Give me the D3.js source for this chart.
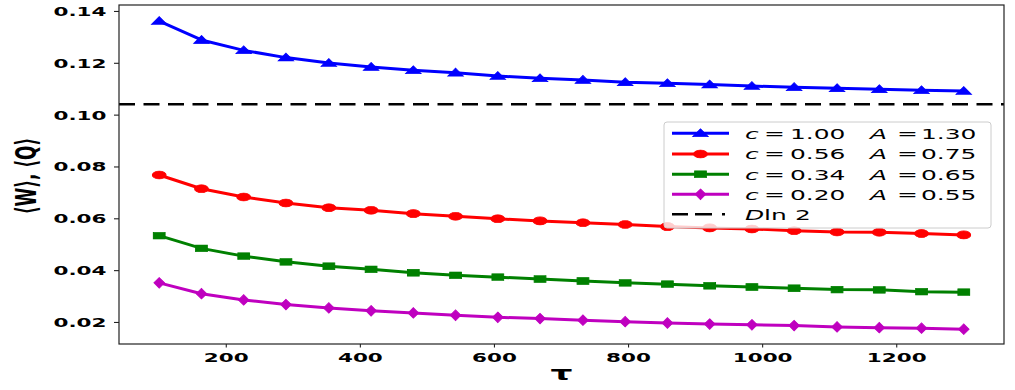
<!DOCTYPE html>
<html>
<head>
<meta charset="utf-8">
<script src="https://cdn.jsdelivr.net/npm/d3@7"></script>
<style>
body { margin: 0; background: #fff; }
text { font-family: "DejaVu Sans", sans-serif; }
</style>
</head>
<body>
<div class="chart"></div>
<script>
// data
var tau = [100, 163, 226, 289, 353, 416, 479, 542, 605, 668, 732, 795, 858, 921, 984, 1047, 1111, 1174, 1237, 1300];
var blueVals = [0.1361, 0.1288, 0.1248, 0.1220, 0.1199, 0.1184, 0.1171, 0.1162, 0.1149, 0.1140, 0.1134, 0.1125, 0.1121, 0.1116, 0.1110, 0.1106, 0.1102, 0.1098, 0.1094, 0.1091];
var redVals = [0.0767, 0.0714, 0.0682, 0.0659, 0.0641, 0.0631, 0.0618, 0.0608, 0.0598, 0.0590, 0.0583, 0.0576, 0.0568, 0.0563, 0.0559, 0.0552, 0.0547, 0.0546, 0.0541, 0.0536];
var greenVals = [0.0533, 0.0484, 0.0454, 0.0432, 0.0415, 0.0403, 0.0390, 0.0380, 0.0373, 0.0366, 0.0358, 0.0351, 0.0346, 0.0340, 0.0335, 0.0330, 0.0325, 0.0324, 0.0317, 0.0315];
var magentaVals = [0.0351, 0.0309, 0.0285, 0.0267, 0.0254, 0.0243, 0.0235, 0.0226, 0.0218, 0.0213, 0.0207, 0.0201, 0.0196, 0.0192, 0.0189, 0.0186, 0.0181, 0.0178, 0.0176, 0.0172];
var dLn2 = 0.1040;
var cLabels = ["1.00", "0.56", "0.34", "0.20"];
var aLabels = ["1.30", "0.75", "0.65", "0.55"];
var xTicks = [200, 400, 600, 800, 1000, 1200];
var yTicks = [0.02, 0.04, 0.06, 0.08, 0.10, 0.12, 0.14];

var svgWidth = 1015, svgHeight = 390;
var plot = {left: 119, right: 1004, top: 5, bottom: 344};
var k = 1.72; // the reference is stretched sideways

var series = [
    {vals: blueVals, color: "#0000ff", marker: "tri"},
    {vals: redVals, color: "#ff0000", marker: "circle"},
    {vals: greenVals, color: "#008000", marker: "square"},
    {vals: magentaVals, color: "#bf00bf", marker: "diamond"}
];

var svg = d3.select(".chart").append("svg")
    .attr("width", svgWidth)
    .attr("height", svgHeight);

var x = d3.scaleLinear().domain([40, 1360]).range([plot.left, plot.right]);
var y = d3.scaleLinear().domain([0.0115, 0.1423]).range([plot.bottom, plot.top]);

function markerPath(type) {
    if (type == "tri") return d3.symbol().type(d3.symbolTriangle).size(36)();
    if (type == "circle") return d3.symbol().type(d3.symbolCircle).size(50)();
    if (type == "square") return d3.symbol().type(d3.symbolSquare).size(46)();
    return "M0,-5.3L3.1,0L0,5.3L-3.1,0Z";
}

function drawMarker(g, type, cx, cy, color) {
    var t = type == "tri" ? "translate(" + cx + "," + (cy + 0.8) + ")" : "translate(" + cx + "," + cy + ")";
    g.append("path")
        .attr("d", markerPath(type))
        .attr("transform", t + " scale(" + k + ",1)")
        .attr("fill", color)
        .attr("stroke", color)
        .attr("stroke-width", 0.6);
}

// stretched text helper
function sText(g, px, py, str, size, weight, anchor) {
    return g.append("text")
        .attr("transform", "translate(" + px + "," + py + ") scale(" + k + ",1)")
        .attr("font-size", size)
        .attr("font-weight", weight || "normal")
        .attr("text-anchor", anchor || "start")
        .attr("fill", "#000")
        .text(str);
}

// dashed D ln 2
svg.append("line")
    .attr("x1", plot.left).attr("x2", plot.right)
    .attr("y1", y(dLn2)).attr("y2", y(dLn2))
    .attr("stroke", "#000")
    .attr("stroke-width", 2.6)
    .attr("stroke-dasharray", "16 8.5");

// lines + markers
var line = d3.line()
    .x(function(d, i) { return x(tau[i]); })
    .y(function(d) { return y(d); });

series.forEach(function(s) {
    svg.append("path")
        .datum(s.vals)
        .attr("d", line)
        .attr("fill", "none")
        .attr("stroke", s.color)
        .attr("stroke-width", 3)
        .attr("stroke-linejoin", "round");
    var mg = svg.append("g");
    s.vals.forEach(function(v, i) {
        drawMarker(mg, s.marker, x(tau[i]), y(v), s.color);
    });
});

// frame
svg.append("rect")
    .attr("x", plot.left).attr("y", plot.top)
    .attr("width", plot.right - plot.left)
    .attr("height", plot.bottom - plot.top)
    .attr("fill", "none")
    .attr("stroke", "#222")
    .attr("stroke-width", 1.2);

// axes
var yAxisG = svg.append("g")
    .attr("transform", "translate(" + plot.left + ",0)")
    .call(d3.axisLeft(y).tickValues(yTicks).tickSize(5).tickSizeOuter(0).tickFormat(d3.format(".2f")));
yAxisG.select(".domain").remove();
yAxisG.selectAll("line").attr("stroke", "#222").attr("stroke-width", 1.1);
yAxisG.selectAll("text")
    .attr("x", -12.5 / k)
    .attr("dy", "0.36em")
    .attr("transform", "scale(" + k + ",1)")
    .attr("font-size", 12.5)
    .attr("font-weight", "bold")
    .attr("font-family", "DejaVu Sans")
    .attr("fill", "#000");

var xAxisG = svg.append("g")
    .attr("transform", "translate(0," + plot.bottom + ")")
    .call(d3.axisBottom(x).tickValues(xTicks).tickSize(3.5).tickSizeOuter(0).tickFormat(d3.format("d")));
xAxisG.select(".domain").remove();
xAxisG.selectAll("line").attr("stroke", "#222").attr("stroke-width", 1.1);
xAxisG.selectAll("text")
    .attr("y", 18)
    .attr("dy", 0)
    .attr("transform", "scale(" + k + ",1)")
    .attr("font-size", 12.5)
    .attr("font-weight", "bold")
    .attr("font-family", "DejaVu Sans")
    .attr("fill", "#000");
// scale() also moves the tick x, so undo it on the group
xAxisG.selectAll(".tick").each(function(d) {
    d3.select(this).select("text").attr("x", 0);
    d3.select(this).attr("transform", "translate(" + x(d) + ",0)");
});

// axis titles
sText(svg, (plot.left + plot.right) / 2, 380, "\u03c4", 20, "bold", "middle");
svg.append("text")
    .attr("transform", "translate(36,176) scale(" + k + ",1) rotate(-90)")
    .attr("font-size", 17)
    .attr("font-weight", "bold")
    .attr("text-anchor", "middle")
    .text("\u27e8W\u27e9, \u27e8Q\u27e9");

// legend
var leg = svg.append("g");
leg.append("rect")
    .attr("x", 664).attr("y", 122)
    .attr("width", 327).attr("height", 106)
    .attr("rx", 3)
    .attr("fill", "#fff").attr("fill-opacity", 0.8)
    .attr("stroke", "#ccc").attr("stroke-width", 1);

var rowY = [133.3, 154, 174.3, 194.3, 214.3];
series.forEach(function(s, i) {
    var cy = rowY[i];
    leg.append("line")
        .attr("x1", 672).attr("x2", 729)
        .attr("y1", cy).attr("y2", cy)
        .attr("stroke", s.color).attr("stroke-width", 3);
    drawMarker(leg, s.marker, 700.5, cy, s.color);
    var base = cy + 5.4;
    sText(leg, 745, base, "c", 14.5).attr("font-style", "italic");
    sText(leg, 764, base, "=", 14.5);
    sText(leg, 790, base, cLabels[i], 14.5);
    sText(leg, 870, base, "A", 14.5).attr("font-style", "italic");
    sText(leg, 897, base, "=", 14.5);
    sText(leg, 921, base, aLabels[i], 14.5);
});
leg.append("line")
    .attr("x1", 672).attr("x2", 726)
    .attr("y1", rowY[4]).attr("y2", rowY[4])
    .attr("stroke", "#000").attr("stroke-width", 2.6)
    .attr("stroke-dasharray", "16 7 17 10 3 20");
sText(leg, 745, rowY[4] + 5.4, "D", 14.5).attr("font-style", "italic");
sText(leg, 764, rowY[4] + 5.4, "ln", 14.5);
sText(leg, 795, rowY[4] + 5.4, "2", 14.5);
</script>
</body>
</html>
